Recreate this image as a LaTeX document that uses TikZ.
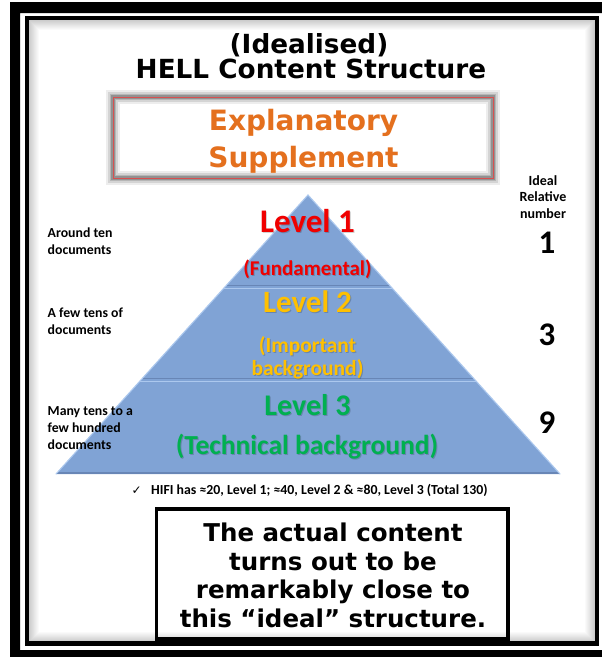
\documentclass[tikz,border=0pt]{standalone}
\usepackage{fontspec}
\usetikzlibrary{calc}
\newfontfamily\versans{DejaVu Sans}
\newfontfamily\calsans{Carlito}
\newfontfamily\symsans{DejaVu Sans}
\definecolor{pyrblue}{RGB}{128,163,213}
\definecolor{pyredge}{RGB}{172,200,238}
\definecolor{pyrdark}{RGB}{104,134,182}
\definecolor{supred}{RGB}{215,80,80}
\definecolor{suporange}{RGB}{228,112,30}
\definecolor{lvred}{RGB}{240,0,0}
\definecolor{lvgold}{RGB}{255,192,0}
\definecolor{lvgreen}{RGB}{0,176,80}
\tikzset{
  titletext/.style={font=\versans\bfseries\fontsize{26.3}{30}\selectfont, anchor=base, inner sep=0pt},
  supptext/.style={font=\versans\bfseries\fontsize{28}{30}\selectfont, text=suporange, anchor=base, inner sep=0pt},
  notetext/.style={font=\calsans\bfseries\fontsize{13.8}{17}\selectfont, anchor=base west, inner sep=0pt},
  coltext/.style={font=\calsans\bfseries\fontsize{14}{17}\selectfont, anchor=base, inner sep=0pt},
  digittext/.style={font=\calsans\bfseries\fontsize{33}{36}\selectfont, anchor=base, inner sep=0pt},
  lvltext/.style={font=\calsans\bfseries\fontsize{#1}{#1}\selectfont, anchor=base, inner sep=0pt},
  boxtext/.style={font=\versans\bfseries\fontsize{24.5}{28}\selectfont, anchor=base, inner sep=0pt},
  layer/.style={fill=pyrblue},
  rimlight/.style={draw=pyredge, line width=1.6pt, line cap=round},
  rimdark/.style={draw=pyrdark, line width=1.4pt},
}
% text with a soft drop shadow: name, position, style, text
\newcommand\shadowtext[4]{%
  \node[#3, text=black, text opacity=0.18] at ($#2+(1,1)$) {#4};
  \node[#3] (#1) at #2 {#4};}
\begin{document}
\begin{tikzpicture}[x=1pt,y=-1pt]
\useasboundingbox (0,0) rectangle (602,657);
\fill[white] (0,0) rectangle (602,657);
% heavy outer frame
\fill[black, even odd rule] (10,2) rectangle (640,690) (20,13) rectangle (603,650);
% soft inner shadow of the slide
\foreach \i in {0,...,9} {
  \pgfmathsetmacro\op{0.2*(1-\i/10)}
  \draw[black, draw opacity=\op, line width=1pt] (29.5+\i,20.5+\i) rectangle (594.5-\i,641.5-\i);
}
\draw[line width=4.5pt] (26.8,17.8) rectangle (596.8,643.5);

% title
\node[titletext] (ttlA) at (309,53) {(Idealised)};
\node[titletext] (ttlB) at (311,78) {HELL Content Structure};

% supplement box with grey glow
\foreach \w/\o in {14/0.07, 10/0.1, 6.5/0.14, 3.5/0.2}
  \draw[black, draw opacity=\o, line width=\w pt] (113,97) rectangle (493,178);
\node[draw=supred, line width=1pt, minimum width=380pt, minimum height=81pt, inner sep=0pt] (suppbox) at (303,137.5) {};
\node[supptext] (suppA) at (303.5,130) {Explanatory};
\node[supptext] (suppB) at (303.5,167) {Supplement};

% pyramid
\coordinate (apex) at (308,195);
\coordinate (bl) at (56,474);
\coordinate (br) at (560,474);
\path[layer] (apex) -- (br) -- (bl) -- cycle;
% bevel rims of the three layers
\draw[rimdark] (226.3,285.5) -- (389.7,285.5);
\draw[rimdark] (142.3,378.5) -- (473.7,378.5);
\draw[rimdark] (57.4,472.8) -- (558.6,472.8);
\draw[rimlight] (223.6,288.6) -- (392.4,288.6);
\draw[rimlight] (139.6,381.6) -- (476.4,381.6);
\draw[rimlight, line width=1.1pt] (bl) -- (apex) -- (br);

% level labels
\shadowtext{lvA}{(307.5,232)}{lvltext=33, text=lvred}{Level 1}
\shadowtext{lvAs}{(307.5,275)}{lvltext=21, text=lvred}{(Fundamental)}
\shadowtext{lvB}{(307.5,312)}{lvltext=31, text=lvgold}{Level 2}
\shadowtext{lvBs}{(307.5,352)}{lvltext=21.5, text=lvgold}{(Important}
\shadowtext{lvBt}{(307.5,375)}{lvltext=21.5, text=lvgold}{background)}
\shadowtext{lvC}{(307.5,415)}{lvltext=30, text=lvgreen}{Level 3}
\shadowtext{lvCs}{(307,454)}{lvltext=27.5, text=lvgreen}{(Technical background)}

% left notes
\node[notetext] (nA1) at (47.5,237.5) {Around ten};
\node[notetext] (nA2) at (47.5,254.5) {documents};
\node[notetext] (nB1) at (47.5,317.5) {A few tens of};
\node[notetext] (nB2) at (47.5,334.5) {documents};
\node[notetext] (nC1) at (47.5,415.5) {Many tens to a};
\node[notetext] (nC2) at (47.5,432.5) {few hundred};
\node[notetext] (nC3) at (47.5,449.5) {documents};

% right column
\node[coltext] (cH1) at (543,185) {Ideal};
\node[coltext] (cH2) at (543,201.5) {Relative};
\node[coltext] (cH3) at (543,218) {number};
\node[digittext] (dA) at (547,253) {1};
\node[digittext] (dB) at (547,345) {3};
\node[digittext] (dC) at (547,433) {9};

% count line
\node[font=\symsans\fontsize{12}{12}\selectfont, anchor=base west, inner sep=0pt] (chk) at (131.5,494) {✓};
\node[notetext] (hifi) at (151,494) {HIFI has ≈20, Level 1; ≈40, Level 2 \& ≈80, Level 3 (Total 130)};

% conclusion box
\node[draw, line width=3.5pt, minimum width=351.5pt, minimum height=130pt, inner sep=0pt] (actbox) at (332.3,574) {};
\node[boxtext] (bxA) at (333,541.7) {The actual content};
\node[boxtext] (bxB) at (333,570.2) {turns out to be};
\node[boxtext] (bxC) at (333,598.7) {remarkably close to};
\node[boxtext] (bxD) at (333,627.2) {this “ideal” structure.};
\end{tikzpicture}
\end{document}
